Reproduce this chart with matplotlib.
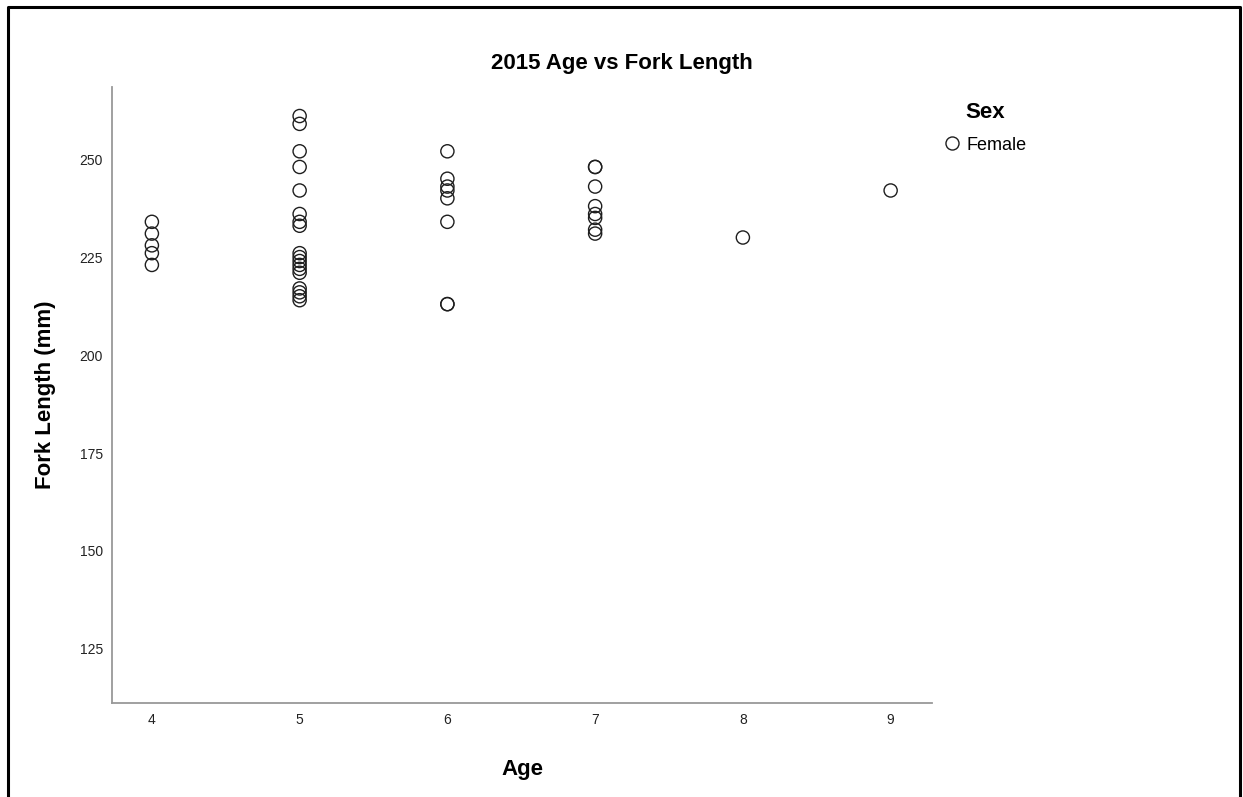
import matplotlib.pyplot as plt
from matplotlib.lines import Line2D

plt.rcParams['font.family'] = ['Liberation Sans', 'DejaVu Sans']

# fork length (mm) by age, females only
age4 = [234, 231, 228, 226, 223]
age5 = [261, 259, 252, 248, 242, 236, 234, 233, 226, 225, 224, 223, 222, 221, 217, 216, 215, 214]
age6 = [252, 245, 243, 242, 240, 234, 213, 213]
age7 = [248, 248, 243, 238, 236, 235, 232, 231]
age8 = [230]
age9 = [242]

ages = [4, 5, 6, 7, 8, 9]
lengths = [age4, age5, age6, age7, age8, age9]
yticks = [125, 150, 175, 200, 225, 250]

fig = plt.figure(figsize=(12.43, 7.97), dpi=100)
ax = fig.add_axes([0.0901, 0.1179, 0.6597, 0.7729])

for a, vals in zip(ages, lengths):
    ax.scatter([a] * len(vals), vals, s=90, facecolors='none',
               edgecolors='#1e1e1e', linewidths=1.0)

ax.set_xlim(3.73, 9.28)
ax.set_ylim(111.2, 268.4)
ax.set_xticks(ages)
ax.set_yticks(yticks)
ax.tick_params(length=0, labelsize=10, colors='#222222')
ax.tick_params(axis='y', pad=6.5)
ax.tick_params(axis='x', pad=7)

for s in ['top', 'right']:
    ax.spines[s].set_visible(False)
for s in ['left', 'bottom']:
    ax.spines[s].set_color('#999999')
    ax.spines[s].set_linewidth(1.3)

# titles and axis labels
fig.text(622 / 1243, 1 - 64 / 797, '2015 Age vs Fork Length', ha='center', va='center',
         fontsize=16, fontweight='bold')
fig.text(522 / 1243, 1 - 769 / 797, 'Age', ha='center', va='center',
         fontsize=16, fontweight='bold')
fig.text(46 / 1243, 1 - 395 / 797, 'Fork Length (mm)', ha='center', va='center',
         rotation=90, fontsize=16, fontweight='bold')

# legend
fig.text(985 / 1243, 1 - 113 / 797, 'Sex', ha='center', va='center',
         fontsize=16, fontweight='bold')
handle = Line2D([], [], marker='o', linestyle='none', markersize=9.4,
                markerfacecolor='none', markeredgecolor='#1e1e1e', markeredgewidth=1.0)
fig.legend([handle], ['Female'], loc='center left',
           bbox_to_anchor=(932 / 1243, 1 - 145 / 797), frameon=False,
           fontsize=13, handletextpad=0.2, handlelength=1.2, borderpad=0)

# outer frame
fx0, fx1, fy1 = 8 / 1243, 1240 / 1243, 1 - 7 / 797
fig.add_artist(Line2D([fx0, fx0, fx1, fx1], [0, fy1, fy1, 0],
                      transform=fig.transFigure, color='black', linewidth=2.2))

fig.savefig('out.png', dpi=100)
